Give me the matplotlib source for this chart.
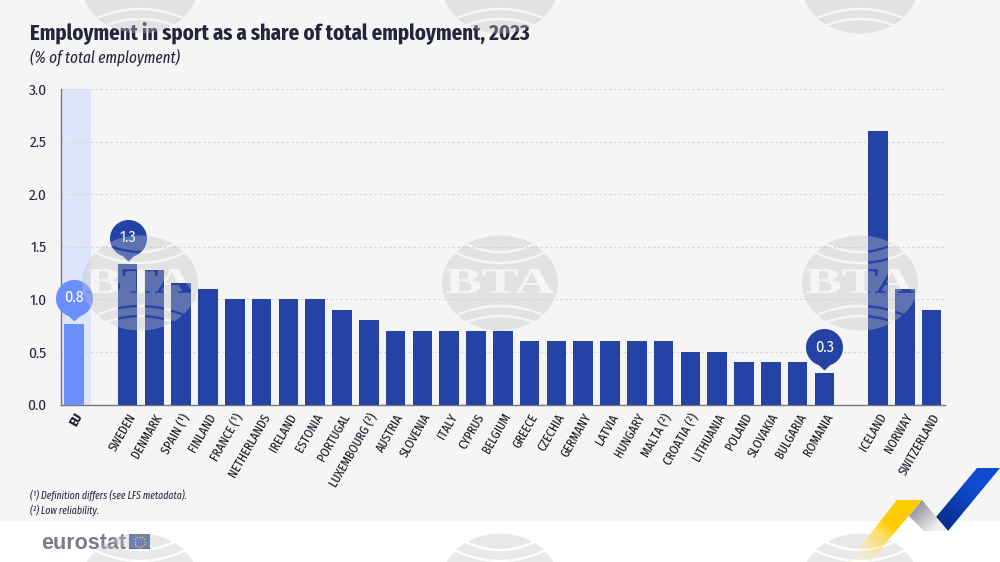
import numpy as np
import matplotlib
matplotlib.use("Agg")
import matplotlib.pyplot as plt
from matplotlib.path import Path
from matplotlib.patches import PathPatch, Rectangle, Polygon
from matplotlib.textpath import TextPath
from matplotlib.font_manager import FontProperties

plt.rcParams['font.family'] = ['Fira Sans Condensed', 'Liberation Sans', 'DejaVu Sans']
NARROW = ['Fira Sans Extra Condensed', 'Fira Sans Condensed', 'DejaVu Sans']

eu_label = ["EU"]
eu_values = [0.77]
member_labels = ["SWEDEN", "DENMARK", "SPAIN (¹)", "FINLAND", "FRANCE (¹)", "NETHERLANDS", "IRELAND", "ESTONIA",
                 "PORTUGAL", "LUXEMBOURG (²)", "AUSTRIA", "SLOVENIA", "ITALY", "CYPRUS", "BELGIUM", "GREECE",
                 "CZECHIA", "GERMANY", "LATVIA", "HUNGARY", "MALTA (²)", "CROATIA (²)", "LITHUANIA", "POLAND",
                 "SLOVAKIA", "BULGARIA", "ROMANIA"]
member_values = [1.34, 1.28, 1.16, 1.1, 1.0, 1.0, 1.0, 1.0, 0.9, 0.8, 0.7, 0.7, 0.7, 0.7, 0.7, 0.6, 0.6, 0.6, 0.6,
                 0.6, 0.6, 0.5, 0.5, 0.4, 0.4, 0.4, 0.3]
efta_labels = ["ICELAND", "NORWAY", "SWITZERLAND"]
efta_values = [2.6, 1.1, 0.9]
y_ticks = [0.0, 0.5, 1.0, 1.5, 2.0, 2.5, 3.0]
callouts = [("EU", "0.8"), ("SWEDEN", "1.3"), ("ROMANIA", "0.3")]

W, H = 1000, 562
DARK = "#2543a5"
LIGHT = "#6a8ffd"
TXT = "#22263a"

fig = plt.figure(figsize=(W / 100, H / 100), dpi=100, facecolor="#f5f5f5")
fig.patches.append(Rectangle((0, 0), 1, (H - 521) / H, transform=fig.transFigure, fc="white", ec="none", zorder=0))

ax = fig.add_axes([60.5 / W, 1 - 404.5 / H, (945 - 60.5) / W, (404.5 - 89) / H], zorder=2)
ax.set_facecolor("none")

x_eu = [0]
x_mem = list(range(2, 2 + len(member_labels)))
x_efta = list(range(30, 30 + len(efta_labels)))
ax.axvspan(-0.5, 0.62, color="#dfe5fa", lw=0, zorder=0)
ax.bar(x_eu, eu_values, width=0.73, color=LIGHT, zorder=3)
ax.bar(x_mem, member_values, width=0.73, color=DARK, zorder=3)
ax.bar(x_efta, efta_values, width=0.73, color=DARK, zorder=3)

ax.set_xlim(-0.5, 32.5)
ax.set_ylim(0, 3.0)
ax.set_yticks(y_ticks)
ax.set_yticklabels([f"{v:.1f}" for v in y_ticks], fontsize=11, color=TXT)
ax.yaxis.grid(True, color="#d6d6d6", lw=0.8, ls=(0, (2.2, 2.2)), zorder=1)
ax.set_axisbelow(True)
ax.tick_params(axis="y", length=0, pad=10)
ax.tick_params(axis="x", length=0, pad=5)
for s in ("top", "right"):
    ax.spines[s].set_visible(False)
for s in ("left", "bottom"):
    ax.spines[s].set_color("#77787d")
    ax.spines[s].set_linewidth(1.0)

xs = x_eu + x_mem + x_efta
labels = eu_label + member_labels + efta_labels
ax.set_xticks(xs)
ax.set_xticklabels(labels, rotation=60, ha="right", rotation_mode="anchor", fontsize=9.6, color="#15171f", family=NARROW)
ax.get_xticklabels()[0].set_fontweight("bold")

# callout marker: tip sits just above bar top, circle on top
R, CY, TIP = 18.5, 26.0, 3.0
th = np.linspace(-np.pi / 2 + 0.32, 3 * np.pi / 2 - 0.32, 80)
cv = np.column_stack([R * np.cos(th), CY + R * np.sin(th)])
verts = np.vstack([[[0, TIP]], cv, [[0, TIP]]])
bubble = Path(verts)
ms = 2 * np.max(np.abs(verts)) * 0.72
all_vals = dict(zip(labels, eu_values + member_values + efta_values))
all_x = dict(zip(labels, xs))
for name, txt in callouts:
    col = LIGHT if name == "EU" else DARK
    ax.plot([all_x[name]], [all_vals[name]], marker=bubble, ms=ms, mfc=col, mec="none", ls="none", zorder=5, clip_on=False)
    ax.annotate(txt, (all_x[name], all_vals[name]), xytext=(0, 26 * 0.72), textcoords="offset points", ha="center",
                va="center", color="white", fontsize=11.5, zorder=6, annotation_clip=False)

# overlay in pixel coordinates
ov = fig.add_axes([0, 0, 1, 1], zorder=5)
ov.set_xlim(0, W)
ov.set_ylim(H, 0)
ov.axis("off")

ov.text(30, 39, "Employment in sport as a share of total employment, 2023", fontsize=16.2, fontweight="bold", color=TXT,
        va="baseline", ha="left", family=NARROW)
ov.text(30, 62, "(% of total employment)", fontsize=11.9, style="italic", color=TXT, va="baseline", family=NARROW)
ov.text(30, 499, "(¹) Definition differs (see LFS metadata).", fontsize=7.6, style="italic", color=TXT, va="baseline", family=NARROW)
ov.text(30, 514, "(²) Low reliability.", fontsize=7.6, style="italic", color=TXT, va="baseline", family=NARROW)

ov.text(41, 549, "eurostat", fontsize=15.5, fontweight="bold", color="#7a7c85", family=["Liberation Sans"], va="baseline")
ov.add_patch(Rectangle((129, 534), 21, 15, fc="#3c5aa8", ec="none"))
a = np.arange(12) * np.pi / 6
ov.scatter(139.5 + 5 * np.cos(a), 541.5 + 5 * np.sin(a), s=1.2, c="#f0d040", lw=0)

# watermark tiles
RX, RY = 58, 47.5
def mark(cx, cy):
    t = np.linspace(0, 2 * np.pi, 160)
    parts = [Path(np.column_stack([cx + RX * np.cos(t), -cy + RY * np.sin(t)]))]
    for yup, mid, end, half in ((1, 31, 40, 36), (1, 20, 32, 48), (-1, 23, 33, 46), (-1, 33, 40, 36)):
        u = np.linspace(-half, half, 40)
        ymid = mid + (end - mid) * (u / half) ** 2
        up = np.column_stack([u, ymid + 1.2])
        lo = np.column_stack([u[::-1], ymid[::-1] - 1.2])
        poly = np.vstack([up, lo, up[:1]])
        r = np.maximum(1, np.hypot(poly[:, 0] / RX, poly[:, 1] / RY))
        poly = poly / r[:, None]
        poly = poly * [1, yup] + [cx, -cy]
        area = np.sum(poly[:-1, 0] * poly[1:, 1] - poly[1:, 0] * poly[:-1, 1])
        if area > 0:
            poly = poly[::-1]
        parts.append(Path(poly))
    tp = TextPath((0, 0), "BTA", size=40, prop=FontProperties(family="Liberation Serif", weight="bold"))
    bb = tp.get_extents()
    v = tp.vertices.copy()
    v[:, 0] = cx + (v[:, 0] - bb.x0 - bb.width / 2) * 108 / bb.width
    v[:, 1] = -cy + 2 + (v[:, 1] - bb.y0 - bb.height / 2) * 24 / bb.height
    parts.append(Path(v, tp.codes))
    comp = Path.make_compound_path(*parts)
    comp = Path(comp.vertices * [1, -1], comp.codes)
    ov.add_patch(PathPatch(comp, fc="#c4c4c4", ec="none", alpha=0.37, zorder=4, clip_on=True))

for cx in (140, 500, 860):
    for cy in (-14, 283, 581):
        mark(cx, cy)

# corner chevrons
def grad(poly, c0, c1, p0, p1, a0=1.0, a1=1.0, z=6):
    xa, xb = min(p[0] for p in poly), max(p[0] for p in poly)
    ya, yb = min(p[1] for p in poly), max(p[1] for p in poly)
    gx, gy = np.meshgrid(np.linspace(xa, xb, 60), np.linspace(ya, yb, 60))
    d = np.array(p1) - np.array(p0)
    f = np.clip(((gx - p0[0]) * d[0] + (gy - p0[1]) * d[1]) / (d @ d), 0, 1)
    rgba = np.zeros(f.shape + (4,))
    c0, c1 = matplotlib.colors.to_rgb(c0), matplotlib.colors.to_rgb(c1)
    for i in range(3):
        rgba[..., i] = c0[i] + (c1[i] - c0[i]) * f
    rgba[..., 3] = a0 + (a1 - a0) * f
    im = ov.imshow(rgba, extent=(xa, xb, yb, ya), aspect="auto", zorder=z, interpolation="bilinear")
    clip = Polygon(poly, closed=True, transform=ov.transData, fc="none", ec="none")
    ov.add_patch(clip)
    im.set_clip_path(clip)

grad([(977, 468), (1000, 468), (948, 531), (936, 517)], "#0f4bd0", "#0a2f8f", (975, 490), (945, 525))
grad([(897, 500), (922, 500), (870, 562), (848, 562)], "#ffcc00", "#fff3c0", (890, 525), (860, 562), 1.0, 0.15)
grad([(922, 500), (948, 531), (924, 531), (909, 516)], "#909096", "#f2f2f2", (912, 507), (935, 530))
ov.set_xlim(0, W)
ov.set_ylim(H, 0)

fig.savefig("out.png", dpi=100, facecolor=fig.get_facecolor())
